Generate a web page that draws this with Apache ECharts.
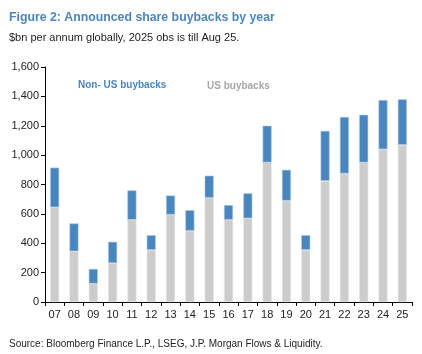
<!DOCTYPE html>
<html>
<head>
<meta charset="utf-8">
<script src="https://cdn.jsdelivr.net/npm/echarts@6/dist/echarts.min.js"></script>
<style>
  html, body { margin: 0; padding: 0; background: #fff; }
  #chart { width: 422px; height: 354px; }
</style>
</head>
<body>
<div id="chart"></div>
<script>
const years = ['07','08','09','10','11','12','13','14','15','16','17','18','19','20','21','22','23','24','25']
const usBuybacks = [645, 345, 125, 265, 560, 355, 595, 485, 710, 560, 570, 950, 690, 355, 825, 875, 950, 1040, 1070]
const nonUsBuybacks = [270, 190, 100, 145, 200, 100, 130, 140, 150, 100, 170, 250, 210, 100, 340, 385, 325, 335, 310]

const font = '"Liberation Sans", Arial, sans-serif'
const chart = echarts.init(document.getElementById('chart'))

const option = {
  animation: false,
  textStyle: { fontFamily: font },
  title: [
    {
      text: 'Figure 2: Announced share buybacks by year',
      left: 4, top: 7,
      textStyle: { color: '#4a86be', fontSize: 12.3, fontWeight: 'bold', fontFamily: font }
    },
    {
      text: '$bn per annum globally, 2025 obs is till Aug 25.',
      left: 4, top: 27,
      textStyle: { color: '#222', fontSize: 11, fontWeight: 'normal', fontFamily: font }
    },
    {
      text: 'Source: Bloomberg Finance L.P., LSEG, J.P. Morgan Flows & Liquidity.',
      left: 4, top: 334,
      textStyle: { color: '#222', fontSize: 10, fontWeight: 'normal', fontFamily: font }
    }
  ],
  graphic: [
    { type: 'text', left: 78, top: 80, style: { text: 'Non- US buybacks', fill: '#4a86be', font: 'bold 10px ' + font } },
    { type: 'text', left: 207, top: 81, style: { text: 'US buybacks', fill: '#a6a6a6', font: 'bold 10px ' + font } }
  ],
  grid: { left: 45, right: 10, top: 67, bottom: 52 },
  xAxis: {
    type: 'category',
    data: years,
    axisLine: { lineStyle: { color: '#000' } },
    axisTick: { show: true, length: 4, lineStyle: { color: '#000' } },
    axisLabel: { color: '#222', fontSize: 11, margin: 7 }
  },
  yAxis: {
    type: 'value',
    min: 0, max: 1600, interval: 200,
    splitLine: { show: false },
    axisLine: { show: true, lineStyle: { color: '#000' } },
    axisTick: { show: true, length: 4, lineStyle: { color: '#000' } },
    axisLabel: {
      color: '#222', fontSize: 11, margin: 6,
      formatter: v => v.toLocaleString('en-US')
    }
  },
  series: [
    {
      name: 'US buybacks',
      type: 'bar',
      stack: 'total',
      barWidth: 9,
      data: usBuybacks,
      itemStyle: { color: '#cccccc', borderColor: '#e4e4e4', borderWidth: 0.6 }
    },
    {
      name: 'Non- US buybacks',
      type: 'bar',
      stack: 'total',
      barWidth: 9,
      data: nonUsBuybacks,
      itemStyle: { color: '#4a86be', borderColor: '#a9c6e2', borderWidth: 0.6 }
    }
  ]
}

chart.setOption(option)
</script>
</body>
</html>
